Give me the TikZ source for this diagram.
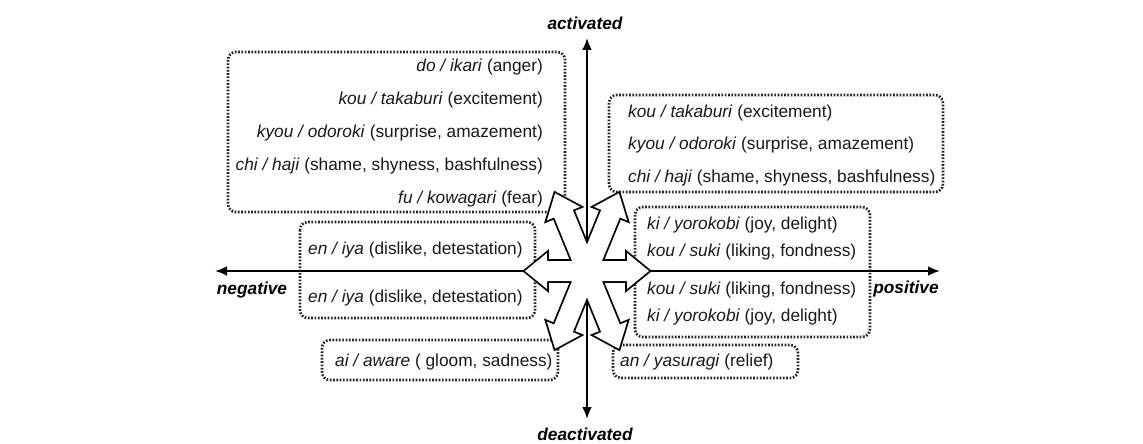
\documentclass[tikz,border=0pt]{standalone}
\usepackage{fontspec}
\setmainfont{Liberation Sans}
\usetikzlibrary{arrows.meta}

\tikzset{
  emobox/.style={draw=black!85, line width=2.6pt, dash pattern=on 1.7pt off 1.6pt, rounded corners=8pt},
  emotext/.style={font=\fontsize{17.3}{20}\selectfont, text=black!90, inner sep=0pt},
  axislabel/.style={font=\fontsize{17.3}{20}\selectfont\bfseries\itshape, inner sep=0pt},
  axisline/.style={line width=2.6pt, {Latex[length=12pt,width=10pt]}-{Latex[length=12pt,width=10pt]}},
}

\begin{document}
\begin{tikzpicture}[x=1pt, y=-1pt]
    \useasboundingbox (0,0) rectangle (1143,444);

    % the two axes
    \coordinate (c) at (587,271);
    \coordinate (up) at (587,38);
    \coordinate (down) at (587,419);
    \coordinate (west) at (215,271);
    \coordinate (east) at (940,271);
    \draw[axisline] (down) -- (up);
    \draw[axisline] (west) -- (east);
    \node[axislabel] (act) at (585,23) {activated};
    \node[axislabel] (deact) at (585,434) {deactivated};
    \node[axislabel] (neg) at (252,290) {negative};
    \node[axislabel] (pos) at (906,289) {positive};

    % dotted frames
    \draw[emobox] (228,52) rectangle (565,212);
    \draw[emobox] (609,95) rectangle (943,192);
    \draw[emobox] (300,222) rectangle (535,318);
    \draw[emobox] (635,207) rectangle (870,337);
    \draw[emobox] (322,340) rectangle (558,380);
    \draw[emobox] (613,345) rectangle (798,378);

    % upper left
    \node[emotext, anchor=east] (a1) at (543,67) {\textit{do / ikari} (anger)};
    \node[emotext, anchor=east] (a2) at (543,100) {\textit{kou / takaburi} (excitement)};
    \node[emotext, anchor=east] (a3) at (543,133) {\textit{kyou / odoroki} (surprise, amazement)};
    \node[emotext, anchor=east] (a4) at (543,166) {\textit{chi / haji} (shame, shyness, bashfulness)};
    \node[emotext, anchor=east] (a5) at (543,199) {\textit{fu / kowagari} (fear)};

    % upper right
    \node[emotext, anchor=west] (b1) at (628,113) {\textit{kou / takaburi} (excitement)};
    \node[emotext, anchor=west] (b2) at (628,145) {\textit{kyou / odoroki} (surprise, amazement)};
    \node[emotext, anchor=west] (b3) at (628,178) {\textit{chi / haji} (shame, shyness, bashfulness)};

    % negative side
    \node[emotext, anchor=west] (c1) at (308,250) {\textit{en / iya} (dislike, detestation)};
    \node[emotext, anchor=west] (c2) at (308,298) {\textit{en / iya} (dislike, detestation)};

    % positive side
    \node[emotext, anchor=west] (d1) at (647,225) {\textit{ki / yorokobi} (joy, delight)};
    \node[emotext, anchor=west] (d2) at (647,252) {\textit{kou / suki} (liking, fondness)};
    \node[emotext, anchor=west] (d3) at (647,290) {\textit{kou / suki} (liking, fondness)};
    \node[emotext, anchor=west] (d4) at (647,317) {\textit{ki / yorokobi} (joy, delight)};

    % lower row
    \node[emotext, anchor=west] (e1) at (335,362) {\textit{ai / aware} ( gloom, sadness)};
    \node[emotext, anchor=west] (f1) at (620,362) {\textit{an / yasuragi} (relief)};

    % six block arrows in the middle
    \foreach \a/\r in {0/62, 180/62, 67.7/84, 112.3/84, -67.7/84, -112.3/84}
      \draw[line width=3.6pt, line join=miter, shift={(c)}, rotate=\a]
        (0,-10) -- (\r-22,-10) -- (\r-22,-18) -- (\r,0) -- (\r-22,18) -- (\r-22,10) -- (0,10) -- cycle;
    \foreach \a/\r in {0/62, 180/62, 67.7/84, 112.3/84, -67.7/84, -112.3/84}
      \fill[white, shift={(c)}, rotate=\a]
        (0,-10) -- (\r-22,-10) -- (\r-22,-18) -- (\r,0) -- (\r-22,18) -- (\r-22,10) -- (0,10) -- cycle;
\end{tikzpicture}
\end{document}
